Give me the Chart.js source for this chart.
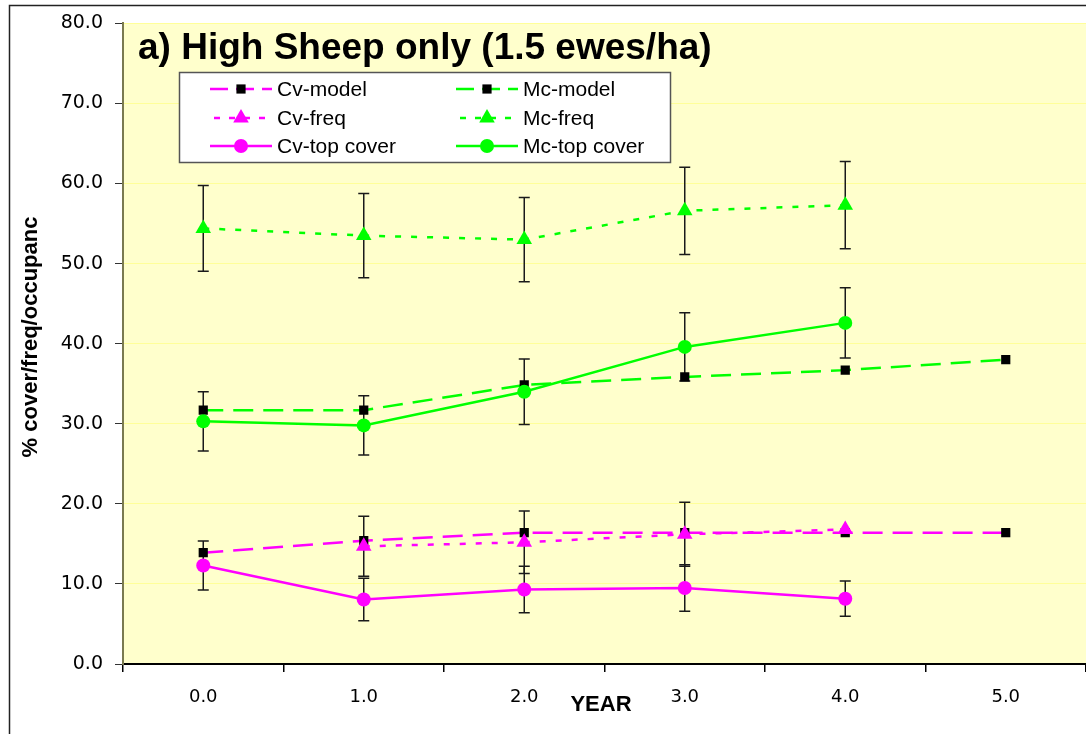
<!DOCTYPE html>
<html lang="en">
<head>
<meta charset="UTF-8">
<title>High Sheep only (1.5 ewes/ha)</title>
<script src="https://cdn.jsdelivr.net/npm/chart.js"></script>
<style>
  html, body { margin: 0; padding: 0; background: #fff; }
  canvas { display: block; }
</style>
</head>
<body>
<canvas id="myChart" width="1086" height="734"></canvas>
<script>
// categories (x axis)
const years = ['0.0', '1.0', '2.0', '3.0', '4.0', '5.0'];

// series
const cvModel   = [13.9, 15.4, 16.4, 16.4, 16.4, 16.4];
const mcModel   = [31.7, 31.7, 34.85, 35.85, 36.7, 38.0];
const cvFreq    = [null, 14.7, 15.2, 16.2, 16.8];
const cvFreqErr = [null, 3.75, 3.9, 4.0, null];
const mcFreq    = [54.4, 53.5, 53.0, 56.6, 57.3];
const mcFreqErr = [5.35, 5.25, 5.25, 5.45, 5.45];
const cvTop     = [12.3, 8.05, 9.3, 9.5, 8.15];
const cvTopErr  = [3.05, 2.65, 2.9, 2.9, 2.2];
const mcTop     = [30.3, 29.8, 34.0, 39.6, 42.6];
const mcTopErr  = [3.7, 3.7, 4.1, 4.25, 4.4];

const MAG = '#FF00FF';
const GRN = '#00FF00';
const FONT = "'Liberation Sans', Arial, sans-serif";

const data = {
    labels: years,
    datasets: [
        {
            label: 'Cv-model', data: cvModel, order: 3,
            borderColor: MAG, borderWidth: 2.5, borderDash: [20, 10],
            pointStyle: 'rect', pointRadius: 6.5, pointBackgroundColor: '#000', pointBorderColor: '#000', pointBorderWidth: 0
        },
        {
            label: 'Mc-model', data: mcModel, order: 3,
            borderColor: GRN, borderWidth: 2.5, borderDash: [20, 10],
            pointStyle: 'rect', pointRadius: 6.5, pointBackgroundColor: '#000', pointBorderColor: '#000', pointBorderWidth: 0
        },
        {
            label: 'Cv-freq', data: cvFreq, err: cvFreqErr, order: 2,
            borderColor: MAG, borderWidth: 2.5, borderDash: [6, 10],
            pointStyle: 'triangle', pointRadius: 9, pointBackgroundColor: MAG, pointBorderColor: MAG, pointBorderWidth: 0
        },
        {
            label: 'Mc-freq', data: mcFreq, err: mcFreqErr, order: 2,
            borderColor: GRN, borderWidth: 2.5, borderDash: [6, 10],
            pointStyle: 'triangle', pointRadius: 9, pointBackgroundColor: GRN, pointBorderColor: GRN, pointBorderWidth: 0
        },
        {
            label: 'Cv-top cover', data: cvTop, err: cvTopErr, order: 1,
            borderColor: MAG, borderWidth: 2.5,
            pointStyle: 'circle', pointRadius: 7, pointBackgroundColor: MAG, pointBorderColor: MAG, pointBorderWidth: 0
        },
        {
            label: 'Mc-top cover', data: mcTop, err: mcTopErr, order: 1,
            borderColor: GRN, borderWidth: 2.5,
            pointStyle: 'circle', pointRadius: 7, pointBackgroundColor: GRN, pointBorderColor: GRN, pointBorderWidth: 0
        }
    ]
};

// white page, yellow plot area, outer frame
const background = {
    id: 'background',
    beforeDraw(chart) {
        const { ctx, chartArea: a } = chart;
        ctx.save();
        ctx.fillStyle = '#fff';
        ctx.fillRect(0, 0, chart.width, chart.height);
        ctx.fillStyle = '#FFFFCC';
        ctx.fillRect(a.left, a.top, a.right - a.left, a.bottom - a.top);
        ctx.strokeStyle = '#222';
        ctx.lineWidth = 1.5;
        ctx.strokeRect(9.5, 5.5, 1200, 900);
        ctx.restore();
    }
};

// vertical error bars with caps
const errorBars = {
    id: 'errorBars',
    beforeDatasetsDraw(chart) {
        const { ctx } = chart;
        const y = chart.scales.y;
        ctx.save();
        ctx.strokeStyle = '#1a1a1a';
        ctx.lineWidth = 1.5;
        chart.data.datasets.forEach((ds, i) => {
            if (!ds.err) return;
            const meta = chart.getDatasetMeta(i);
            ds.err.forEach((e, j) => {
                if (e == null || ds.data[j] == null) return;
                const x = meta.data[j].x;
                const top = y.getPixelForValue(ds.data[j] + e);
                const bot = y.getPixelForValue(ds.data[j] - e);
                ctx.beginPath();
                ctx.moveTo(x, top); ctx.lineTo(x, bot);
                ctx.moveTo(x - 5.5, top); ctx.lineTo(x + 5.5, top);
                ctx.moveTo(x - 5.5, bot); ctx.lineTo(x + 5.5, bot);
                ctx.stroke();
            });
        });
        ctx.restore();
    }
};

function marker(ctx, ds, x, y) {
    ctx.fillStyle = ds.pointBackgroundColor;
    const r = ds.pointRadius;
    ctx.beginPath();
    if (ds.pointStyle === 'rect') {
        const s = r * Math.SQRT1_2;
        ctx.rect(x - s, y - s, 2 * s, 2 * s);
    } else if (ds.pointStyle === 'triangle') {
        ctx.moveTo(x, y - r);
        ctx.lineTo(x + r * 0.866, y + r / 2);
        ctx.lineTo(x - r * 0.866, y + r / 2);
        ctx.closePath();
    } else {
        ctx.arc(x, y, r, 0, Math.PI * 2);
    }
    ctx.fill();
}

// title, axis titles and the boxed two-column legend
const decor = {
    id: 'decor',
    afterDraw(chart) {
        const { ctx } = chart;
        ctx.save();
        ctx.fillStyle = '#000';
        ctx.textBaseline = 'alphabetic';
        ctx.textAlign = 'left';
        ctx.font = 'bold 37px ' + FONT;
        ctx.fillText('a) High Sheep only (1.5 ewes/ha)', 138, 59);

        ctx.textAlign = 'center';
        ctx.font = 'bold 22px ' + FONT;
        ctx.fillText('YEAR', 601, 711);

        ctx.save();
        ctx.translate(37, 337);
        ctx.rotate(-Math.PI / 2);
        ctx.font = 'bold 22px ' + FONT;
        ctx.fillText('% cover/freq/occupanc', 0, 0);
        ctx.restore();

        // legend box
        ctx.fillStyle = '#fff';
        ctx.fillRect(179.5, 72.5, 491, 90);
        ctx.strokeStyle = '#555';
        ctx.lineWidth = 1.5;
        ctx.strokeRect(179.5, 72.5, 491, 90);

        const rows = [89, 118, 146];
        const cols = [241, 487];
        ctx.font = '21px ' + FONT;
        ctx.textAlign = 'left';
        ctx.textBaseline = 'middle';
        chart.data.datasets.forEach((ds, i) => {
            const cx = cols[i % 2];
            const cy = rows[Math.floor(i / 2)];
            ctx.save();
            ctx.strokeStyle = ds.borderColor;
            ctx.lineWidth = ds.borderWidth;
            // shorter dashes in the legend sample so both sides show a stroke
            ctx.setLineDash(ds.borderDash ? (ds.borderDash[0] > 10 ? [18, 8] : [6, 9]) : []);
            ctx.lineDashOffset = ds.borderDash && ds.borderDash[0] > 10 ? 0 : -4;
            ctx.beginPath();
            ctx.moveTo(cx - 31, cy);
            ctx.lineTo(cx + 31, cy);
            ctx.stroke();
            ctx.restore();
            marker(ctx, ds, cx, cy);
            ctx.fillStyle = '#000';
            ctx.fillText(ds.label, cx + 36, cy + 1);
        });
        ctx.restore();
    }
};

const config = {
    type: 'line',
    data: data,
    options: {
        responsive: false,
        animation: false,
        layout: { autoPadding: false, padding: { top: 22.7, right: 0, bottom: 0, left: 0 } },
        plugins: {
            legend: { display: false },
            tooltip: { enabled: false }
        },
        scales: {
            x: {
                offset: true,
                afterFit(scale) {
                    scale.height = 70;
                    scale.paddingLeft = 0;
                    scale.paddingRight = 0;
                },
                grid: {
                    offset: true, drawOnChartArea: false,
                    tickLength: 8, tickColor: '#000', lineWidth: 1.5
                },
                border: { color: '#000', width: 2 },
                ticks: {
                    color: '#000', padding: 15,
                    font: { family: "'DejaVu Sans', sans-serif", size: 18 }
                }
            },
            y: {
                min: 0, max: 80,
                afterFit(scale) { scale.width = 123; },
                grid: {
                    color: '#FFFF99', lineWidth: 1,
                    tickLength: 8, tickColor: '#333'
                },
                border: { color: '#7a7a50', width: 2 },
                ticks: {
                    stepSize: 10, color: '#000', padding: 12,
                    font: { family: "'DejaVu Sans', sans-serif", size: 19 },
                    callback: v => v.toFixed(1)
                }
            }
        }
    },
    plugins: [background, errorBars, decor]
};

const ctx = document.getElementById('myChart').getContext('2d');
const myChart = new Chart(ctx, config);
</script>
</body>
</html>
